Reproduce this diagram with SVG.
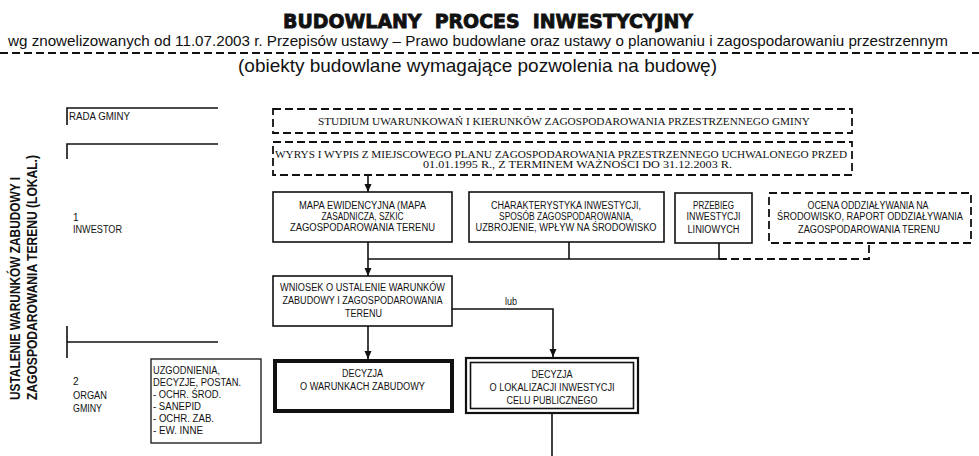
<svg xmlns="http://www.w3.org/2000/svg" width="979" height="456" viewBox="0 0 979 456">
<defs>
<marker id="ah" viewBox="0 0 8 8" refX="8" refY="4" markerWidth="8" markerHeight="8" markerUnits="userSpaceOnUse" orient="auto">
<path d="M0,0.5 L8,4 L0,7.5 Z" fill="#111"/>
</marker>
</defs>
<style>
.s{font-family:"Liberation Sans Narrow","Liberation Sans",Arial,sans-serif;font-size:10px;fill:#111}
.c{text-anchor:middle}
.t{font-family:"Liberation Serif","Times New Roman",serif;font-size:10.5px;fill:#111}
.box{fill:#fff;stroke:#111;stroke-width:1.6}
.dbox{fill:none;stroke:#111;stroke-width:1.8;stroke-dasharray:8 4}
.ln{fill:none;stroke:#111;stroke-width:1.6}
.dl{fill:none;stroke:#111;stroke-width:1.8;stroke-dasharray:8 4}
</style>
<rect width="979" height="456" fill="#fff"/>

<g id="header">
<text x="283" y="28" xml:space="preserve" textLength="410" lengthAdjust="spacingAndGlyphs" style="font-family:'DejaVu Sans','Liberation Sans',sans-serif;font-weight:bold;font-size:20px;fill:#111;stroke:#111;stroke-width:0.9">BUDOWLANY  PROCES  INWESTYCYJNY</text>
<text x="8" y="46" textLength="940" lengthAdjust="spacingAndGlyphs" style="font-family:'Liberation Sans',Arial,sans-serif;font-size:14.5px;fill:#111">wg znowelizowanych od 11.07.2003 r. Przepisów ustawy – Prawo budowlane oraz ustawy o planowaniu i zagospodarowaniu przestrzennym</text>
<line x1="0" y1="53" x2="979" y2="53" class="dl"/>
<text x="238" y="72" textLength="479" lengthAdjust="spacingAndGlyphs" style="font-family:'Liberation Sans',Arial,sans-serif;font-size:19px;fill:#111">(obiekty budowlane wymagające pozwolenia na budowę)</text>
</g>

<g id="side-title">
<text transform="translate(19.5,400) rotate(-90)" textLength="223" lengthAdjust="spacingAndGlyphs" style="font-family:'Liberation Sans',Arial,sans-serif;font-weight:bold;font-size:15.5px;fill:#111">USTALENIE WARUNKÓW ZABUDOWY I</text>
<text transform="translate(36.5,400) rotate(-90)" textLength="245" lengthAdjust="spacingAndGlyphs" style="font-family:'Liberation Sans',Arial,sans-serif;font-weight:bold;font-size:15.5px;fill:#111">ZAGOSPODAROWANIA TERENU (LOKAL.)</text>
</g>

<g id="lanes">
<path class="ln" d="M67,125 V108 H218"/>
<text class="s" x="69" y="119.5" textLength="61" lengthAdjust="spacingAndGlyphs">RADA GMINY</text>
<path class="ln" d="M67,159 V144 H218"/>
<text class="s" x="73" y="221">1</text>
<text class="s" x="73" y="233" textLength="49" lengthAdjust="spacingAndGlyphs">INWESTOR</text>
<path class="ln" d="M67,326 V358 M67,342 H218"/>
<text class="s" x="73" y="385">2</text>
<text class="s" x="73" y="398.5" textLength="34" lengthAdjust="spacingAndGlyphs">ORGAN</text>
<text class="s" x="73" y="412" textLength="29" lengthAdjust="spacingAndGlyphs">GMINY</text>
</g>

<g id="uzgodnienia">
<rect class="box" x="151" y="359" width="110" height="84" style="stroke-width:1.3"/>
<text class="s" x="153" y="374" textLength="67" lengthAdjust="spacingAndGlyphs">UZGODNIENIA,</text>
<text class="s" x="153" y="386" textLength="88" lengthAdjust="spacingAndGlyphs">DECYZJE, POSTAN.</text>
<text class="s" x="153" y="398" textLength="68" lengthAdjust="spacingAndGlyphs">- OCHR. ŚROD.</text>
<text class="s" x="153" y="410" textLength="48" lengthAdjust="spacingAndGlyphs">- SANEPID</text>
<text class="s" x="153" y="422" textLength="61" lengthAdjust="spacingAndGlyphs">- OCHR. ZAB.</text>
<text class="s" x="153" y="434" textLength="50" lengthAdjust="spacingAndGlyphs">- EW. INNE</text>
</g>

<g id="studium">
<rect class="dbox" x="273" y="109" width="579" height="24"/>
<text class="t" x="318" y="124.5" textLength="492" lengthAdjust="spacingAndGlyphs">STUDIUM UWARUNKOWAŃ I KIERUNKÓW ZAGOSPODAROWANIA PRZESTRZENNEGO GMINY</text>
</g>

<g id="wyrys">
<rect class="dbox" x="273" y="142" width="579" height="33"/>
<text class="t" x="275" y="157.5" textLength="572" lengthAdjust="spacingAndGlyphs">WYRYS I WYPIS Z MIEJSCOWEGO PLANU ZAGOSPODAROWANIA PRZESTRZENNEGO UCHWALONEGO PRZED</text>
<text class="t" x="423" y="168" textLength="309" lengthAdjust="spacingAndGlyphs">01.01.1995 R., Z TERMINEM WAŻNOŚCI DO 31.12.2003 R.</text>
</g>

<g id="connectors">
<line class="ln" x1="368" y1="175" x2="368" y2="192" marker-end="url(#ah)"/>
<line class="ln" x1="368" y1="242" x2="368" y2="276" marker-end="url(#ah)"/>
<path class="ln" d="M368,259 H719 M569,242 V259 M719,243 V259"/>
<path class="dl" d="M719,259 H869 V243"/>
<line class="ln" x1="368" y1="326" x2="368" y2="359" marker-end="url(#ah)"/>
<path class="ln" d="M452,309 H553 V357" marker-end="url(#ah)"/>
<text class="s" x="505" y="305" textLength="12" lengthAdjust="spacingAndGlyphs">lub</text>
<line class="ln" x1="552" y1="414" x2="552" y2="456"/>
</g>

<g id="mapa">
<rect class="box" x="273" y="192" width="179" height="50"/>
<text class="s c" x="362.5" y="208.5" textLength="127" lengthAdjust="spacingAndGlyphs">MAPA EWIDENCYJNA (MAPA</text>
<text class="s c" x="362.5" y="219.5" textLength="82" lengthAdjust="spacingAndGlyphs">ZASADNICZA, SZKIC</text>
<text class="s c" x="362.5" y="230.5" textLength="145" lengthAdjust="spacingAndGlyphs">ZAGOSPODAROWANIA TERENU</text>
</g>

<g id="charakterystyka">
<rect class="box" x="469" y="192" width="195" height="50"/>
<text class="s c" x="566" y="208.5" textLength="150" lengthAdjust="spacingAndGlyphs">CHARAKTERYSTYKA INWESTYCJI,</text>
<text class="s c" x="566" y="219.5" textLength="134" lengthAdjust="spacingAndGlyphs">SPOSÓB ZAGOSPODAROWANIA,</text>
<text class="s c" x="566" y="230.5" textLength="181" lengthAdjust="spacingAndGlyphs">UZBROJENIE, WPŁYW NA ŚRODOWISKO</text>
</g>

<g id="przebieg">
<rect class="box" x="675" y="193" width="77" height="50"/>
<text class="s c" x="713.5" y="208.5" textLength="41" lengthAdjust="spacingAndGlyphs">PRZEBIEG</text>
<text class="s c" x="713.5" y="220" textLength="54" lengthAdjust="spacingAndGlyphs">INWESTYCJI</text>
<text class="s c" x="713.5" y="232.5" textLength="52" lengthAdjust="spacingAndGlyphs">LINIOWYCH</text>
</g>

<g id="ocena">
<rect class="dbox" x="769" y="193" width="202" height="50"/>
<text class="s c" x="868" y="208.5" textLength="121" lengthAdjust="spacingAndGlyphs">OCENA ODDZIAŁYWANIA NA</text>
<text class="s c" x="870" y="220" textLength="186" lengthAdjust="spacingAndGlyphs">ŚRODOWISKO, RAPORT ODDZIAŁYWANIA</text>
<text class="s c" x="869" y="232.5" textLength="142" lengthAdjust="spacingAndGlyphs">ZAGOSPODAROWANIA TERENU</text>
</g>

<g id="wniosek">
<rect class="box" x="273" y="276" width="179" height="50"/>
<text class="s c" x="362.5" y="290.5" textLength="165" lengthAdjust="spacingAndGlyphs">WNIOSEK O USTALENIE WARUNKÓW</text>
<text class="s c" x="362.5" y="304" textLength="160" lengthAdjust="spacingAndGlyphs">ZABUDOWY I ZAGOSPODAROWANIA</text>
<text class="s c" x="363.5" y="317" textLength="37" lengthAdjust="spacingAndGlyphs">TERENU</text>
</g>

<g id="decyzja-wz">
<rect class="box" x="275" y="361" width="177" height="50" style="stroke-width:4"/>
<text class="s c" x="362.5" y="377" textLength="41" lengthAdjust="spacingAndGlyphs">DECYZJA</text>
<text class="s c" x="362.5" y="389.5" textLength="125" lengthAdjust="spacingAndGlyphs">O WARUNKACH ZABUDOWY</text>
</g>

<g id="decyzja-lokal">
<rect class="box" x="466" y="358" width="172" height="55" style="stroke-width:2.2"/>
<rect x="470.5" y="362.5" width="163" height="46" style="fill:none;stroke:#111;stroke-width:1.6"/>
<text class="s c" x="552" y="378" textLength="41" lengthAdjust="spacingAndGlyphs">DECYZJA</text>
<text class="s c" x="552" y="391" textLength="125" lengthAdjust="spacingAndGlyphs">O LOKALIZACJI INWESTYCJI</text>
<text class="s c" x="552" y="404" textLength="91" lengthAdjust="spacingAndGlyphs">CELU PUBLICZNEGO</text>
</g>
</svg>
